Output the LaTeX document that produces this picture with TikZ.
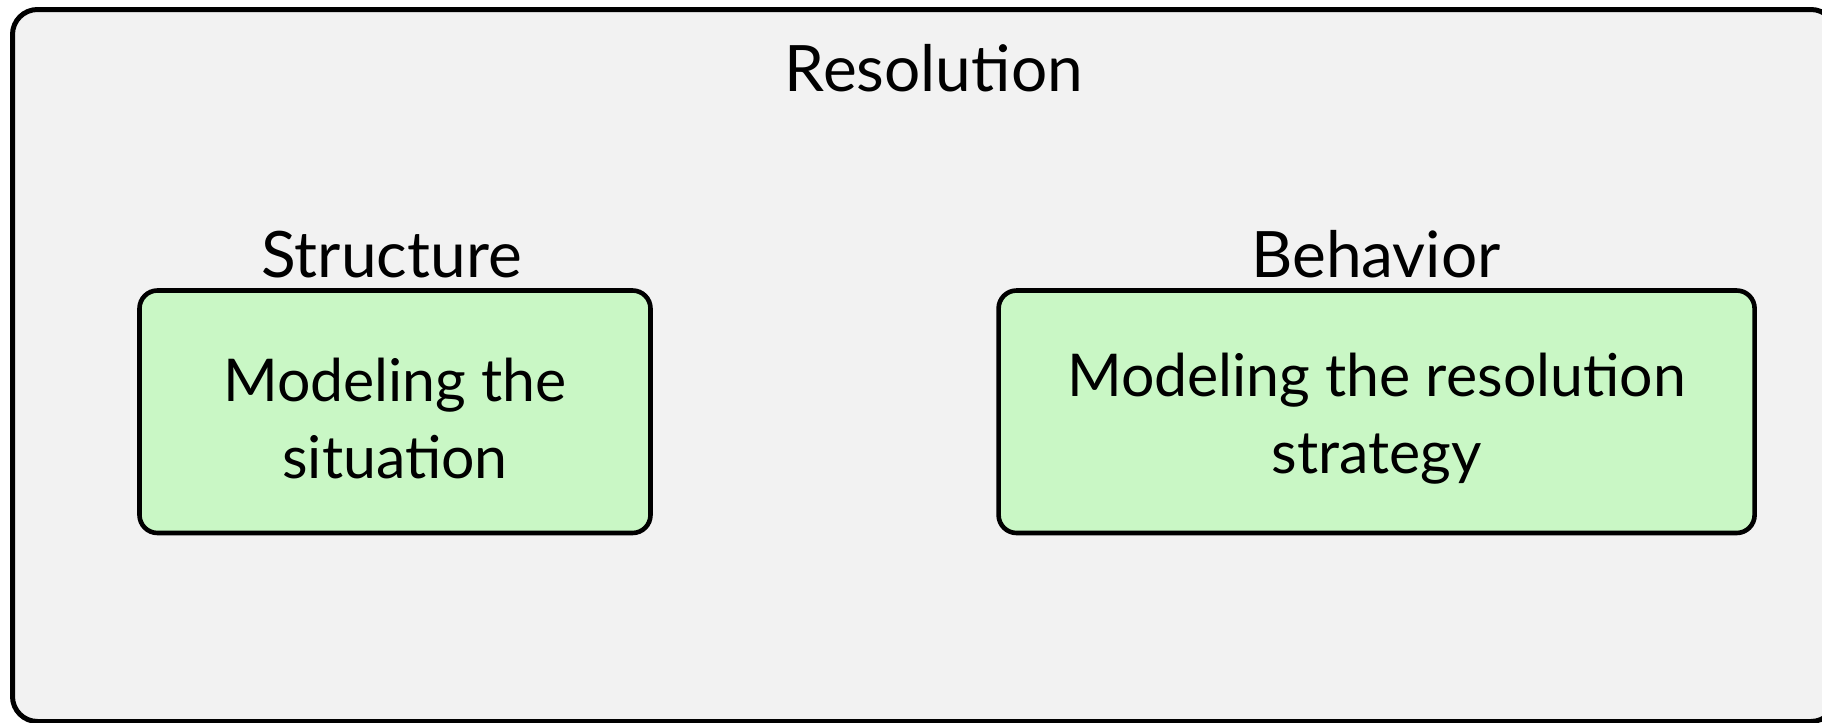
\documentclass[tikz,border=0pt]{standalone}
\usepackage{fontspec}
\setmainfont{Lato}
\usetikzlibrary{positioning}

\definecolor{panelgray}{RGB}{242,242,242}
\definecolor{boxgreen}{RGB}{201,247,197}

\begin{document}
\begin{tikzpicture}[x=0.5pt, y=-0.5pt,
    every node/.style={font=\fontsize{29.5}{38.5}\selectfont, inner sep=0pt},
    heading/.style={anchor=base, font=\fontsize{32}{38}\selectfont},
    model/.style={draw=black, line width=2.3pt, fill=boxgreen,
      rounded corners=9pt, minimum height=121.25pt},
    modeltext/.style={align=center, yshift=-3.5pt}]
    \useasboundingbox (0,0) rectangle (1822,723);
    \fill[white] (0,0) rectangle (1822,723);

    % outer panel, runs off the right and bottom edge
    \begin{scope}
      \clip (0,0) rectangle (1822,723);
      \draw[line width=2.5pt, fill=panelgray, rounded corners=12.5pt]
        (12.5,9.5) rectangle (1836,721.5);
    \end{scope}
    \node[heading] (res) at (934,91) {Resolution};

    % the two models
    \node[model, minimum width=255.5pt] (sit) at (395,411.75) {};
    \node[modeltext] (sittext) at (sit) {Modeling the\\situation};
    \node[model, minimum width=378pt] (strat) at (1376.6,411.75) {};
    \node[modeltext] (strattext) at (strat) {Modeling the resolution\\strategy};

    % headings
    \node[heading] (struct) at (391.5,277) {Structure};
    \node[heading] (behav) at (1376,277) {Behavior};
\end{tikzpicture}
\end{document}
